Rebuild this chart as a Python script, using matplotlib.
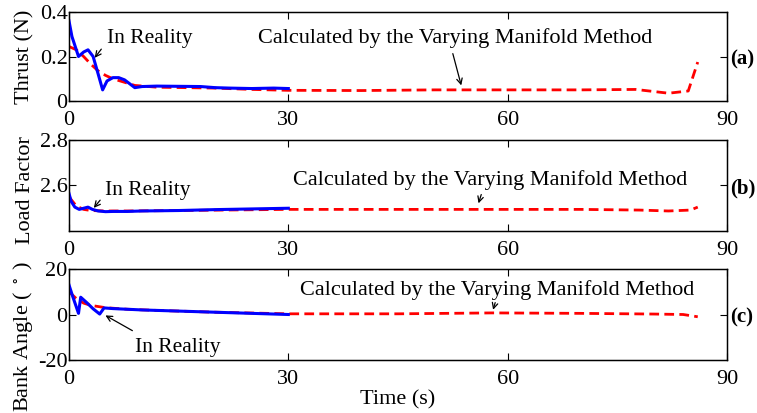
import matplotlib
matplotlib.use("Agg")
import matplotlib.pyplot as plt
import numpy as np

plt.rcParams['font.family'] = ['Liberation Serif', 'DejaVu Serif']
plt.rcParams['mathtext.fontset'] = 'stix'

# ---- data ----
# Thrust (N)
thr_real_t = [0, 0.4, 1.3, 2.0, 2.6, 3.3, 4.0, 4.6, 5.2, 6.0, 6.8, 7.6, 8.4, 9.0, 10, 12, 15, 18, 20, 22, 25, 28, 30]
thr_real_v = [0.36, 0.29, 0.20, 0.22, 0.23, 0.20, 0.12, 0.05, 0.09, 0.105, 0.105, 0.095, 0.075, 0.06, 0.065, 0.067, 0.066, 0.065, 0.06, 0.058, 0.056, 0.058, 0.056]
thr_calc_t = [0, 1, 2, 3, 4, 5, 6, 7, 8, 9, 12, 16, 20, 25, 30, 40, 50, 60, 70, 77.5, 82, 84.7, 86]
thr_calc_v = [0.245, 0.23, 0.20, 0.165, 0.135, 0.115, 0.10, 0.09, 0.08, 0.07, 0.062, 0.06, 0.058, 0.052, 0.048, 0.047, 0.05, 0.05, 0.05, 0.052, 0.035, 0.045, 0.175]

# Load factor
lf_real_t = [0, 0.3, 0.8, 1.4, 2.0, 2.6, 3.2, 4.0, 5.0, 6.0, 8.0, 10, 15, 20, 25, 30]
lf_real_v = [2.565, 2.53, 2.505, 2.495, 2.50, 2.505, 2.495, 2.488, 2.485, 2.486, 2.486, 2.488, 2.49, 2.494, 2.497, 2.50]
lf_calc_t = [0, 1, 2, 3, 5, 8, 15, 30, 45, 60, 70, 78, 82, 85, 86]
lf_calc_v = [2.55, 2.51, 2.495, 2.49, 2.488, 2.488, 2.49, 2.495, 2.495, 2.495, 2.495, 2.492, 2.488, 2.492, 2.505]

# Bank angle (deg)
ba_real_t = [0, 0.5, 1.3, 1.6, 2.5, 3.3, 4.2, 4.8, 6, 8, 10, 15, 20, 25, 30]
ba_real_v = [13, 8, 0.5, 7.6, 5, 2.5, 0.2, 2.9, 2.6, 2.3, 2.0, 1.5, 1.0, 0.5, 0.0]
ba_calc_t = [0, 1, 2, 3, 5, 8, 12, 20, 30, 45, 58, 70, 80, 84, 86]
ba_calc_v = [10, 7, 5, 4, 3, 2.3, 1.8, 1.0, 0.3, 0.3, 0.7, 0.5, 0.2, 0.0, -1.0]

xticks = [0, 30, 60, 90]
ylabels = ['Thrust (N)', 'Load Factor', 'Bank Angle ( $^\\circ$ )']
ylims = [(0, 0.4), (2.4, 2.8), (-20, 20)]
yticks = [[0, 0.2, 0.4], [2.6, 2.8], [-20, 0, 20]]
yticklabels = [['0', '0.2', '0.4'], ['2.6', '2.8'], ['-20', '0', '20']]
right_tick = [0.2, 2.6, 0]
right_label = ['(a)', '(b)', '(c)']

series = [(thr_real_t, thr_real_v, thr_calc_t, thr_calc_v),
          (lf_real_t, lf_real_v, lf_calc_t, lf_calc_v),
          (ba_real_t, ba_real_v, ba_calc_t, ba_calc_v)]

# annotation positions (text center, arrow start, arrow tip) in data coords
real_ann = [((11.1, 0.283), (4.65, 0.243), (3.28, 0.184)),
            ((10.8, 2.58), (4.5, 2.545), (3.15, 2.492)),
            ((14.9, -14.3), (9.0, -7.7), (4.65, 0.2))]
calc_ann = [((52.8, 0.283), (52.4, 0.225), (53.75, 0.058)),
            ((57.6, 2.624), (56.5, 2.572), (55.9, 2.51)),
            ((58.5, 10.8), (58.4, 6.4), (57.9, 0.9))]
label_y = [0.5, 0.45, 0.26]

W, H = 757, 413
fig = plt.figure(figsize=(W / 100, H / 100), dpi=100)
left = 69 / W
width = (727 - 69) / W
tops = [12, 140, 269]
bots = [101, 231, 360]

fs = 16
for i in range(3):
    ax = fig.add_axes([left, 1 - bots[i] / H, width, (bots[i] - tops[i]) / H])
    rt, rv, ct, cv = series[i]
    ax.plot(ct, cv, color='#ff0000', lw=2.0, ls=(0, (3.5, 1.9)), zorder=2)
    ax.plot(rt, rv, color='#0000ff', lw=2.2, zorder=3)
    ax.set_xlim(0, 90)
    ax.set_ylim(*ylims[i])
    ax.set_xticks(xticks)
    ax.set_xticklabels([str(x) for x in xticks], fontsize=fs)
    ax.set_yticks(yticks[i])
    ax.set_yticklabels(yticklabels[i], fontsize=fs)
    ax.tick_params(axis='x', direction='in', top=True, length=5, width=0.8, pad=7)
    ax.tick_params(axis='y', direction='in', right=False, length=5, width=0.8, pad=1)
    for s in ax.spines.values():
        s.set_linewidth(1.0)
    ax.set_ylabel(ylabels[i], fontsize=fs)
    ax.yaxis.set_label_coords(-0.052, label_y[i])
    # right side label
    ax2 = ax.twinx()
    ax2.set_ylim(*ylims[i])
    ax2.set_yticks([right_tick[i]])
    ax2.set_yticklabels([right_label[i]], fontsize=15, fontweight='bold')
    ax2.tick_params(direction='in', length=5, width=0.8, pad=2)
    # annotations
    (tx, ty), (sx, sy), (px, py) = real_ann[i]
    ax.text(tx, ty, 'In Reality', fontsize=15.5, ha='center', va='center')
    ax.annotate('', xy=(px, py), xytext=(sx, sy),
                arrowprops=dict(arrowstyle='->', color='black', lw=0.9))
    (tx, ty), (sx, sy), (px, py) = calc_ann[i]
    ax.text(tx, ty, 'Calculated by the Varying Manifold Method', fontsize=16, ha='center', va='center')
    ax.annotate('', xy=(px, py), xytext=(sx, sy),
                arrowprops=dict(arrowstyle='->', color='black', lw=0.9))
    if i == 2:
        ax.set_xlabel('Time (s)', fontsize=fs, labelpad=1)

fig.savefig('out.png', dpi=100)
